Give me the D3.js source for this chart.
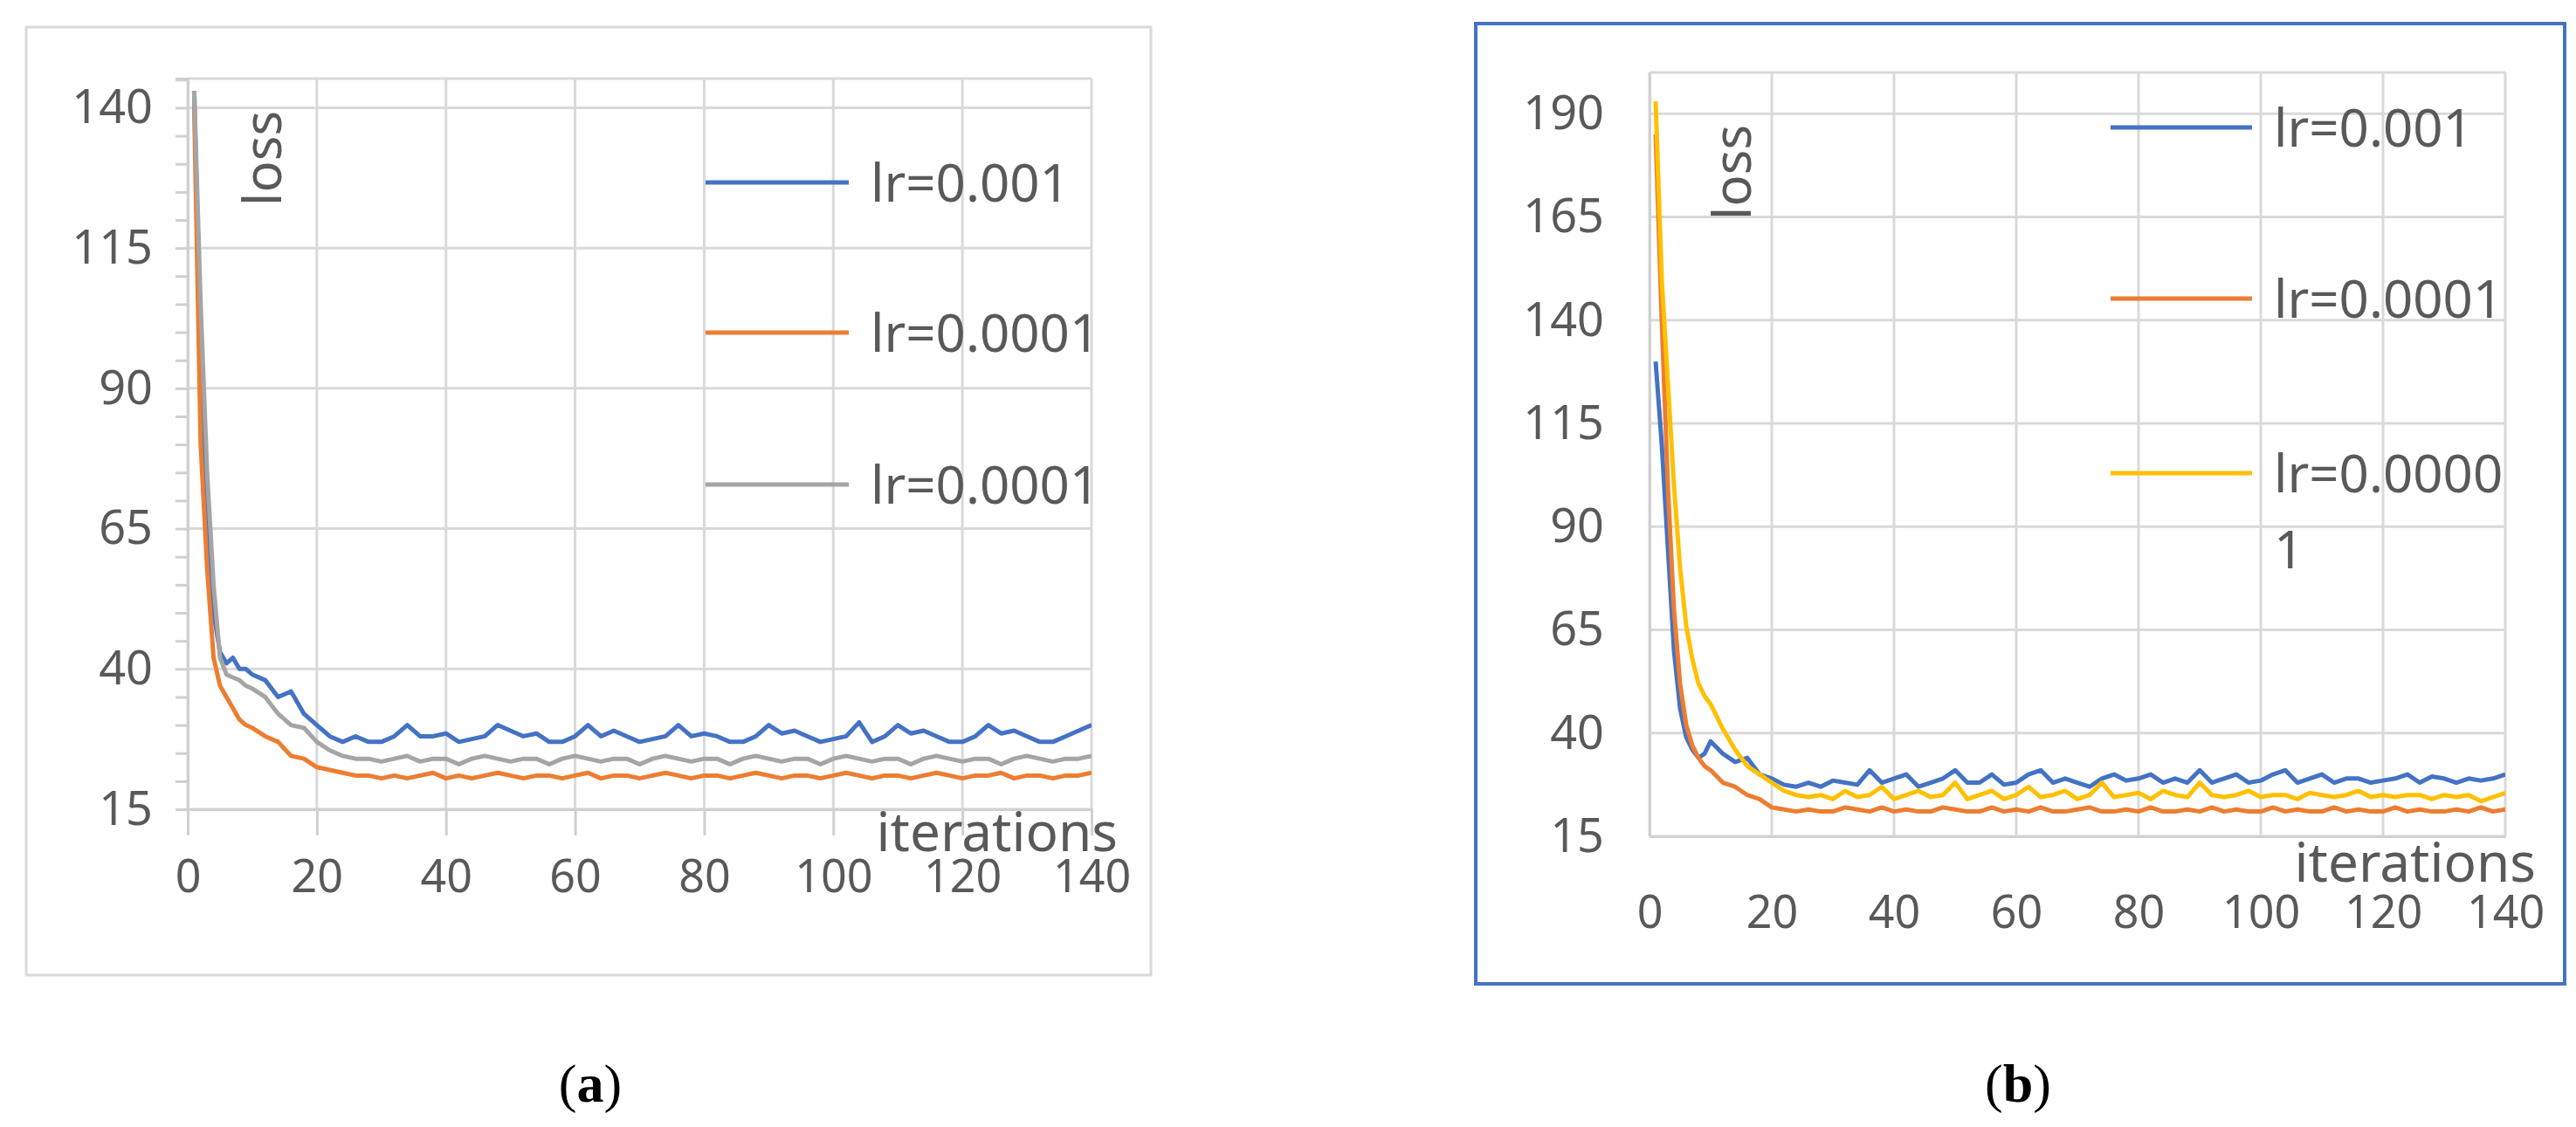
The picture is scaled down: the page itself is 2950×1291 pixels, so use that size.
<!DOCTYPE html>
<html><head><meta charset="utf-8">
<script src="https://cdn.jsdelivr.net/npm/d3@7"></script>
<style>body{margin:0;background:#fff}svg{display:block}</style>
</head><body>
<script>
// ---------- DATA ----------
const iterations = [1,2,3,4,5,6,7,8,9,10,12,14,16,18,20,22,24,26,28,30,32,34,36,38,40,42,44,46,48,50,52,54,56,58,60,62,64,66,68,70,72,74,76,78,80,82,84,86,88,90,92,94,96,98,100,102,104,106,108,110,112,114,116,118,120,122,124,126,128,130,132,134,136,138,140];
const xTicks = [0,20,40,60,80,100,120,140];
const yTicksA = [15,40,65,90,115,140];
const yTicksB = [15,40,65,90,115,140,165,190];
const labelsA = ["lr=0.001","lr=0.0001","lr=0.0001"];
const labelsB = ["lr=0.001","lr=0.0001","lr=0.0000\n1"];

const a_lr001 = [143,95,68,50,43,41,42,40,40,39, 38,35,36,32,30,28,27,28,27,27,28,30,28,28,28.5,27,27.5,28,30,29,28,28.5,27,27,28,30,28,29,28,27,27.5,28,30,28,28.5,28,27,27,28,30,28.5,29,28,27,27.5,28,30.5,27,28,30,28.5,29,28,27,27,28,30,28.5,29,28,27,27,28,29,30];
const a_lr0001 = [140,80,58,42,37,35,33,31,30,29.5, 28,27,24.5,24,22.5,22,21.5,21,21,20.5,21,20.5,21,21.5,20.5,21,20.5,21,21.5,21,20.5,21,21,20.5,21,21.5,20.5,21,21,20.5,21,21.5,21,20.5,21,21,20.5,21,21.5,21,20.5,21,21,20.5,21,21.5,21,20.5,21,21,20.5,21,21.5,21,20.5,21,21,21.5,20.5,21,21,20.5,21,21,21.5];
const a_lr0001b = [143,105,75,55,42,39,38.5,38,37,36.5, 35,32,30,29.5,27,25.5,24.5,24,24,23.5,24,24.5,23.5,24,24,23,24,24.5,24,23.5,24,24,23,24,24.5,24,23.5,24,24,23,24,24.5,24,23.5,24,24,23,24,24.5,24,23.5,24,24,23,24,24.5,24,23.5,24,24,23,24,24.5,24,23.5,24,24,23,24,24.5,24,23.5,24,24,24.5];

const b_lr001 = [130,110,85,60,46,39,36,34,35,38, 35,33,34,30,29,27.5,27,28,27,28.5,28,27.5,31,28,29,30,27,28,29,31,28,28,30,27.5,28,30,31,28,29,28,27,29,30,28.5,29,30,28,29,28,31,28,29,30,28,28.5,30,31,28,29,30,28,29,29,28,28.5,29,30,28,29.5,29,28,29,28.5,29,30];
const b_lr0001 = [185,140,100,70,52,42,37,34,32,31, 28,27,25,24,22,21.5,21,21.5,21,21,22,21.5,21,22,21,21.5,21,21,22,21.5,21,21,22,21,21.5,21,22,21,21,21.5,22,21,21,21.5,21,22,21,21,21.5,21,22,21,21.5,21,21,22,21,21.5,21,21,22,21,21.5,21,21,22,21,21.5,21,21,21.5,21,22,21,21.5];
const b_lr00001 = [193,150,125,100,80,66,58,52,49,47, 41,36,32,30,28,26,25,24.5,25,24,26,24.5,25,27,24,25,26,24.5,25,28,24,25,26,24,25,27,24.5,25,26,24,25,28,24.5,25,25.5,24,26,25,24.5,28,25,24.5,25,26,24.5,25,25,24,25.5,25,24.5,25,26,24.5,25,24.5,25,25,24,25,24.5,25,23.5,24.5,25.5];

// ---------- DRAW ----------
const W = 2950, H = 1291;
const svg = d3.select("body").append("svg").attr("width", W).attr("height", H);
const GRID = "#d9d9d9", TXT = "#595959";
const FONT = "'Noto Sans', 'Open Sans', sans-serif";

function panel(cfg){
  const g = svg.append("g");
  g.append("rect").attr("x",cfg.box[0]).attr("y",cfg.box[1])
    .attr("width",cfg.box[2]-cfg.box[0]).attr("height",cfg.box[3]-cfg.box[1])
    .attr("fill","#fff").attr("stroke",cfg.boxColor).attr("stroke-width",cfg.boxW);
  const x = d3.scaleLinear().domain([0,140]).range([cfg.plot[0],cfg.plot[2]]);
  const y = d3.scaleLinear().domain(cfg.yDomain).range([cfg.plot[3],cfg.plot[1]]);
  g.append("g").selectAll("line").data(xTicks).join("line")
    .attr("x1",d=>x(d)).attr("x2",d=>x(d)).attr("y1",cfg.plot[1]).attr("y2",cfg.plot[3])
    .attr("stroke",GRID).attr("stroke-width",3);
  g.append("g").selectAll("line").data(cfg.yTicks).join("line")
    .attr("x1",cfg.plot[0]).attr("x2",cfg.plot[2]).attr("y1",d=>y(d)).attr("y2",d=>y(d))
    .attr("stroke",GRID).attr("stroke-width",3);
  g.append("line").attr("x1",cfg.plot[0]).attr("x2",cfg.plot[2]).attr("y1",cfg.plot[1]).attr("y2",cfg.plot[1])
    .attr("stroke",GRID).attr("stroke-width",3);
  const ya = d3.axisLeft(y).tickValues(d3.range(cfg.yDomain[0], cfg.yDomain[1]+0.1, 5)).tickSize(cfg.minor ? 14 : 0).tickFormat("");
  const yg = g.append("g").attr("transform",`translate(${cfg.plot[0]},0)`).call(ya);
  yg.selectAll("path,line").attr("stroke","#d0d0d0").attr("stroke-width",3);
  const yl = d3.axisLeft(y).tickValues(cfg.yTicks).tickSize(0).tickPadding(cfg.yPad);
  const yg2 = g.append("g").attr("transform",`translate(${cfg.plot[0]},0)`).call(yl);
  yg2.select(".domain").remove();
  yg2.selectAll("text").attr("fill",TXT).attr("font-size",54).attr("font-family",FONT);
  const xa = d3.axisBottom(x).tickValues(xTicks).tickSize(cfg.minor ? 30 : 0).tickPadding(cfg.xPad);
  const xg = g.append("g").attr("transform",`translate(0,${cfg.plot[3]})`).call(xa);
  xg.selectAll("path,line").attr("stroke","#d0d0d0").attr("stroke-width",3);
  xg.selectAll("text").attr("fill",TXT).attr("font-size",52).attr("font-family",FONT);
  const line = d3.line().x((d,i)=>x(iterations[i])).y(d=>y(d));
  const clip = "clip"+cfg.id;
  g.append("clipPath").attr("id",clip).append("rect")
    .attr("x",cfg.plot[0]).attr("y",cfg.plot[1]-20).attr("width",cfg.plot[2]-cfg.plot[0]).attr("height",cfg.plot[3]-cfg.plot[1]+20);
  cfg.series.forEach(s=>{
    g.append("path").datum(s.values).attr("d",line).attr("fill","none")
      .attr("stroke",s.color).attr("stroke-width",5).attr("stroke-linejoin","round")
      .attr("clip-path",`url(#${clip})`);
  });
  cfg.series.forEach((s,i)=>{
    const ly = cfg.legY[i];
    g.append("line").attr("x1",cfg.legX[0]).attr("x2",cfg.legX[1]).attr("y1",ly).attr("y2",ly)
      .attr("stroke",s.color).attr("stroke-width",5);
    const t = g.append("text").attr("x",cfg.legX[2]).attr("y",ly+22).attr("fill",TXT)
      .attr("font-size",60).attr("font-family",FONT);
    s.label.split("\n").forEach((p,k)=>t.append("tspan").attr("x",cfg.legX[2]).attr("dy",k?87:0).text(p));
  });
  g.append("text").attr("transform",`translate(${cfg.lossX},${cfg.lossY}) rotate(-90)`)
    .attr("fill",TXT).attr("font-size",60).attr("font-family",FONT).text("loss");
  g.append("text").attr("x",cfg.itX).attr("y",cfg.itY).attr("text-anchor","end")
    .attr("fill",TXT).attr("font-size",62).attr("font-family",FONT).text("iterations");
  const c = g.append("text").attr("x",cfg.capX).attr("y",1262).attr("text-anchor","middle")
    .attr("font-size",62).attr("font-family","'Liberation Serif', 'DejaVu Serif', serif").attr("fill","#000");
  c.append("tspan").text("(");
  c.append("tspan").attr("font-weight","bold").text(cfg.cap);
  c.append("tspan").text(")");
}

panel({id:"a", box:[30,31,1318,1117], boxColor:"#d9d9d9", boxW:3,
  plot:[215,90,1250,927], yDomain:[15,145.2], yTicks:yTicksA, minor:true, yPad:40, xPad:28,
  series:[{values:a_lr001,color:"#4472c4",label:labelsA[0]},
          {values:a_lr0001,color:"#ed7d31",label:labelsA[1]},
          {values:a_lr0001b,color:"#a5a5a5",label:labelsA[2]}],
  legX:[808,972,997], legY:[209,381,555], lossX:322, lossY:236, itX:1280, itY:975,
  capX:676, cap:"a"});

panel({id:"b", box:[1690,27,2937,1127], boxColor:"#4472c4", boxW:4,
  plot:[1889,83,2869,958], yDomain:[15,200], yTicks:yTicksB, minor:false, yPad:52, xPad:68,
  series:[{values:b_lr001,color:"#4472c4",label:labelsB[0]},
          {values:b_lr0001,color:"#ed7d31",label:labelsB[1]},
          {values:b_lr00001,color:"#ffc000",label:labelsB[2]}],
  legX:[2417,2579,2604], legY:[146,342,542], lossX:2005, lossY:252, itX:2904, itY:1010,
  capX:2311, cap:"b"});
</script>
</body></html>
